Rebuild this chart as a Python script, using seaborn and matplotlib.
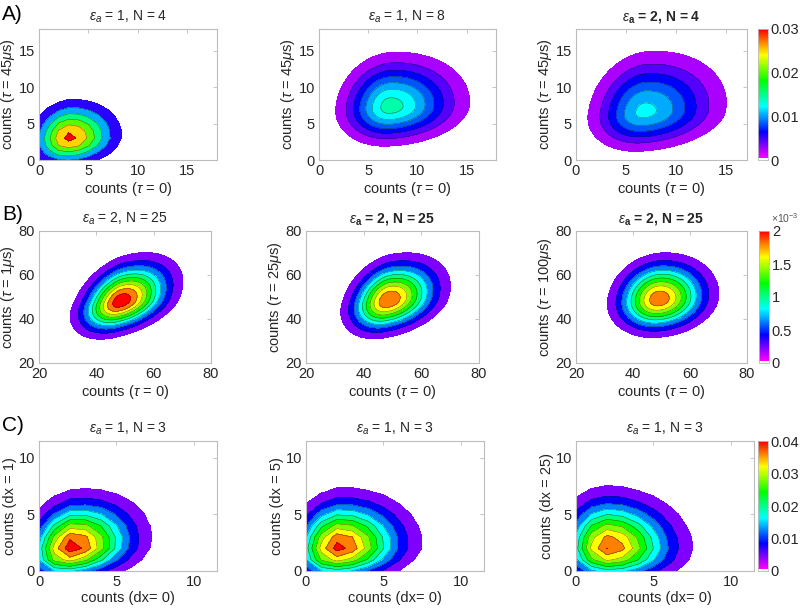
import numpy as np
import matplotlib
matplotlib.use("Agg")
import matplotlib.pyplot as plt
import seaborn as sns
from matplotlib.colors import hsv_to_rgb, ListedColormap, Normalize
from matplotlib.cm import ScalarMappable

# ---------------- data ----------------
titles = [r"$\epsilon_a$ = 1, N = 4", r"$\epsilon_a$ = 1, N = 8", r"$\epsilon_\mathbf{a}$ = 2, N = 4",
          r"$\epsilon_a$ = 2, N = 25", r"$\epsilon_\mathbf{a}$ = 2, N = 25", r"$\epsilon_\mathbf{a}$ = 2, N = 25",
          r"$\epsilon_a$ = 1, N = 3", r"$\epsilon_a$ = 1, N = 3", r"$\epsilon_a$ = 1, N = 3"]
bold_title = [False, False, True, False, True, True, False, False, False]
xlabels = [r"counts ($\tau$ = 0)"] * 6 + ["counts (dx= 0)"] * 3
ylabels = [r"counts ($\tau$ = 45$\mu$s)", r"counts ($\tau$ = 45$\mu$s)", r"counts ($\tau$ = 45$\mu$s)",
           r"counts ($\tau$ = 1$\mu$s)", r"counts ($\tau$ = 25$\mu$s)", r"counts ($\tau$ = 100$\mu$s)",
           "counts (dx = 1)", "counts (dx = 5)", "counts (dx = 25)"]

# mode location, split spreads (left/right, down/up), correlation and peak probability
mode_x = [3.0, 7.2, 6.8, 48.5, 48.5, 49.0, 2.0, 2.0, 2.0]
mode_y = [3.0, 7.3, 6.6, 48.0, 48.5, 49.0, 2.0, 2.0, 2.0]
sd_left = [2.0, 2.75, 2.93, 8.1, 7.7, 8.45, 1.5, 1.55, 1.6]
sd_right = [2.76, 4.05, 4.3, 10.0, 10.1, 9.9, 2.4, 2.5, 2.55]
sd_down = [2.0, 2.7, 2.83, 7.9, 8.2, 8.2, 1.5, 1.55, 1.6]
sd_up = [2.76, 3.75, 4.35, 10.2, 10.1, 9.9, 2.4, 2.45, 2.55]
rho = [0.1, 0.1, 0.15, 0.4, 0.3, 0.12, 0.2, 0.1, 0.0]
peak = [0.0315, 0.0148, 0.0125, 0.00212, 0.00196, 0.00193, 0.0428, 0.0418, 0.0401]

# contour level spacing per panel (first level = step)
level_step = [0.005, 0.002, 0.002, 0.0002, 0.0002, 0.0002, 0.004, 0.004, 0.004]
# colour scale maximum per row and colorbar ticks
row_vmax = [0.03, 0.002, 0.04]
cbar_ticks = [[0, 0.01, 0.02, 0.03], [0, 0.0005, 0.001, 0.0015, 0.002], [0, 0.01, 0.02, 0.03, 0.04]]
cbar_ticklabels = [["0", "0.01", "0.02", "0.03"], ["0", "0.5", "1", "1.5", "2"], ["0", "0.01", "0.02", "0.03", "0.04"]]
row_letters = ["A)", "B)", "C)"]

xlims = [(0, 18), (0, 18), (0, 17.1), (20, 80), (20, 80), (20, 80), (0, 11.5), (0, 11.5), (0, 11.5)]
ylims = [(0, 18), (0, 18), (0, 18), (20, 80), (20, 80), (20, 80), (0, 11.5), (0, 11.5), (0, 11.5)]
xticks = [[0, 5, 10, 15]] * 3 + [[20, 40, 60, 80]] * 3 + [[0, 5, 10]] * 3
yticks = [[0, 5, 10, 15]] * 3 + [[20, 40, 60, 80]] * 3 + [[0, 5, 10]] * 3
grid_step = [1.0, 0.1, 0.1, 0.25, 0.25, 0.25, 1.0, 1.0, 1.0]

# ---------------- style ----------------
sns.set_theme(style="white")
plt.rcParams["font.family"] = ["Liberation Sans", "DejaVu Sans"]
plt.rcParams["mathtext.fontset"] = "custom"
plt.rcParams["mathtext.rm"] = "Liberation Sans"
plt.rcParams["mathtext.it"] = "Liberation Sans:italic"
plt.rcParams["mathtext.bf"] = "Liberation Sans:bold"

W, H = 800, 611
fig = plt.figure(figsize=(8, 6.11), dpi=100)

def px(l, t, w, h):
    return [l / W, 1 - (t + h) / H, w / W, h / H]

axes_px = [(39, 29, 178, 131), (319, 29, 177, 131), (576, 29, 171, 131),
           (39, 231, 172, 132), (306, 231, 173, 132), (576, 231, 171, 132),
           (39, 441, 178, 130), (306, 441, 178, 130), (576, 441, 178, 130)]
cbar_px = [(758, 29, 10, 131), (759, 231, 10, 132), (758, 441, 10, 130)]

def level_color(v, vmax):
    h = max(0.0, 1 - v / vmax) * 300 / 360
    return hsv_to_rgb((h, 1, 1))

cm_cols = [(1, 1, 1)] * 4 + [hsv_to_rgb(((1 - t) * 300 / 360, 1, 1)) for t in np.linspace(0, 1, 252)]
cmap = ListedColormap(cm_cols)

tick_col = "#262626"
spine_col = "#bcbcbc"
FS = 10.5

for i in range(9):
    row = i // 3
    vmax = row_vmax[row]
    ax = fig.add_axes(px(*axes_px[i]))
    xs = np.arange(xlims[i][0], xlims[i][1] + 1e-9, grid_step[i])
    ys = np.arange(ylims[i][0], ylims[i][1] + 1e-9, grid_step[i])
    X, Y = np.meshgrid(xs, ys)
    u = (X - mode_x[i]) / np.where(X < mode_x[i], sd_left[i], sd_right[i])
    v = (Y - mode_y[i]) / np.where(Y < mode_y[i], sd_down[i], sd_up[i])
    r = rho[i]
    Z = peak[i] * np.exp(-0.5 * (u ** 2 - 2 * r * u * v + v ** 2) / (1 - r ** 2))
    step = level_step[i]
    levels = list(np.arange(step, peak[i], step))
    cols = [level_color(L, vmax) for L in levels]
    ax.contourf(X, Y, Z, levels=levels + [1.0], colors=cols)
    if len(levels) > 1:
        ax.contour(X, Y, Z, levels=levels[1:], colors="k", linewidths=0.35, alpha=0.7)
    ax.set_xlim(*xlims[i])
    ax.set_ylim(*ylims[i])
    ax.set_xticks(xticks[i])
    ax.set_yticks(yticks[i])
    ax.tick_params(direction="in", length=3, width=0.6, color=spine_col, labelcolor=tick_col,
                   labelsize=FS, top=True, right=True, pad=3)
    for s in ax.spines.values():
        s.set_color(spine_col)
        s.set_linewidth(0.8)
    ax.set_xlabel(xlabels[i], fontsize=FS, color=tick_col, labelpad=1)
    ax.set_ylabel(ylabels[i], fontsize=FS, color=tick_col, labelpad=1)
    ax.set_title(titles[i], fontsize=10, color=tick_col, pad=6,
                 fontweight="bold" if bold_title[i] else "normal")

for row in range(3):
    cax = fig.add_axes(px(*cbar_px[row]))
    sm = ScalarMappable(norm=Normalize(0, row_vmax[row]), cmap=cmap)
    cb = fig.colorbar(sm, cax=cax)
    cb.set_ticks(cbar_ticks[row])
    cb.set_ticklabels(cbar_ticklabels[row])
    cax.tick_params(direction="in", length=2, width=0.5, color=spine_col, labelcolor=tick_col,
                    labelsize=FS, pad=2)
    cb.outline.set_edgecolor(spine_col)
    cb.outline.set_linewidth(0.6)

fig.text(771 / W, 1 - 223 / H, r"$\times$10$^{-3}$", fontsize=7.5, color="#555555", va="baseline")

for row, (lab, base) in enumerate(zip(row_letters, [20, 220, 431])):
    fig.text(2 / W, 1 - base / H, lab, fontsize=15, color="black", va="baseline")

fig.savefig("out.png", dpi=100)
